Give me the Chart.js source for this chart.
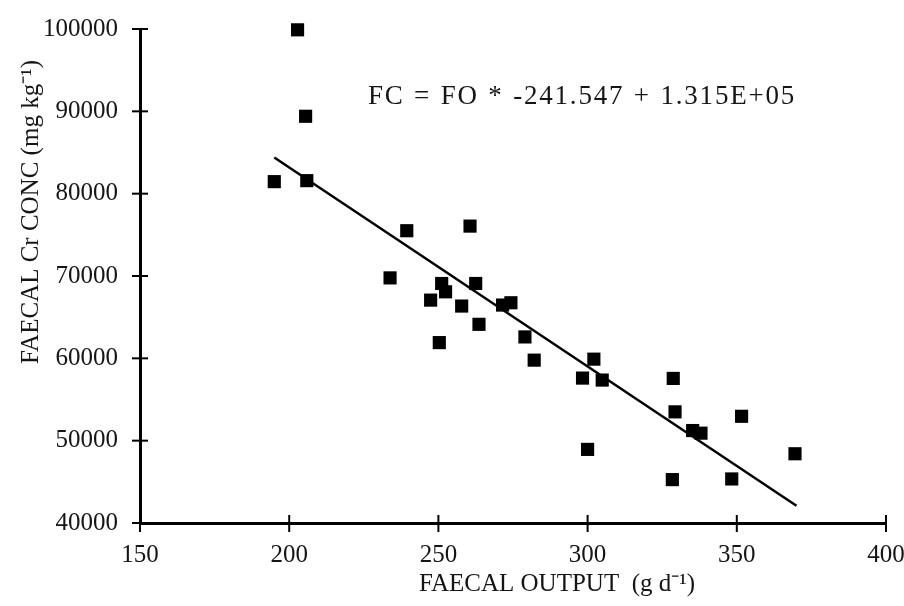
<!DOCTYPE html>
<html>
<head>
<meta charset="utf-8">
<script src="https://cdn.jsdelivr.net/npm/chart.js@4"></script>
<style>
  body { margin: 0; background: #fff; }
  #wrap { width: 904px; height: 606px; position: relative; }
</style>
</head>
<body>
<div id="wrap"><canvas id="chart"></canvas></div>
<script>
// faecal output (g/d) and faecal Cr concentration (mg/kg)
const faecalOutput = [202.8, 205.5, 195, 205.9, 239.4, 233.8, 260.6, 251.1, 252.4, 247.4,
  262.5, 257.8, 263.6, 250.3, 271.5, 274.3, 279, 282.1, 302.1, 298.3,
  304.9, 300, 328.7, 329.3, 335.2, 338, 328.4, 348.3, 351.6, 369.5];
const faecalCrConc = [99900, 89400, 81460, 81580, 75500, 69770, 76060, 69090, 68080, 67070,
  69090, 66350, 64130, 61910, 66470, 66750, 62600, 59780, 59900, 57600,
  57360, 48940, 57560, 53500, 51230, 50910, 45270, 45350, 52960, 48410];

// regression line end points
const fitX = [195, 370];
const fitY = [84400, 42100];

const xTicks = [150, 200, 250, 300, 350, 400];
const yTicks = [40000, 50000, 60000, 70000, 80000, 90000, 100000];

const equation = "FC = FO * -241.547 + 1.315E+05";
const xTitle = "FAECAL OUTPUT  (g d\u207B\u00B9)";
const yTitle = "FAECAL Cr CONC (mg kg\u207B\u00B9)";

const SERIF = "'Liberation Serif', 'Times New Roman', serif";
const INK = "#151515";

// tick marks crossing the axes + free text
const decor = {
  id: "decor",
  afterDraw(chart) {
    const c = chart.ctx;
    const xs = chart.scales.x, ys = chart.scales.y;
    const a = chart.chartArea;
    c.save();
    c.strokeStyle = "#000";
    c.lineWidth = 2;
    xTicks.forEach(v => {
      const px = xs.getPixelForValue(v);
      c.beginPath(); c.moveTo(px, a.bottom - 8); c.lineTo(px, a.bottom + 9); c.stroke();
    });
    yTicks.forEach(v => {
      const py = ys.getPixelForValue(v);
      c.beginPath(); c.moveTo(a.left - 8, py); c.lineTo(a.left + 8, py); c.stroke();
    });

    c.fillStyle = INK;
    c.textAlign = "center";
    c.textBaseline = "middle";
    c.font = "27px " + SERIF;
    c.letterSpacing = "1.8px";
    c.wordSpacing = "1px";
    c.fillText(equation, 582, 97);
    c.letterSpacing = "0px";
    c.wordSpacing = "0px";
    c.font = "25px " + SERIF;
    c.fillText(xTitle, 557, 584);
    c.translate(31, 212);
    c.rotate(-Math.PI / 2);
    c.fillText(yTitle, 0, 0);
    c.restore();
  }
};

new Chart(document.getElementById("chart"), {
  type: "scatter",
  data: {
    datasets: [
      {
        label: "data",
        data: faecalOutput.map((x, i) => ({ x: x, y: faecalCrConc[i] })),
        pointStyle: "rect",
        pointRadius: 9.3,
        pointBorderWidth: 0,
        backgroundColor: "#000",
        borderColor: "#000",
        clip: false
      },
      {
        label: "fit",
        type: "line",
        data: fitX.map((x, i) => ({ x: x, y: fitY[i] })),
        borderColor: "#000",
        borderWidth: 2.5,
        pointRadius: 0,
        fill: false
      }
    ]
  },
  options: {
    responsive: true,
    maintainAspectRatio: false,
    animation: false,
    layout: { padding: { top: 19, right: 18, left: 0, bottom: 0 } },
    plugins: { legend: { display: false }, tooltip: { enabled: false } },
    scales: {
      x: {
        type: "linear",
        min: 150, max: 400,
        afterBuildTicks: s => { s.ticks = xTicks.map(v => ({ value: v })); },
        afterFit: s => { s.height = 83; s.paddingRight = 0; },
        grid: { display: false },
        border: { display: true, color: "#000", width: 3 },
        ticks: { color: INK, padding: 9, font: { family: SERIF, size: 25 } }
      },
      y: {
        type: "linear",
        min: 40000, max: 100000,
        afterBuildTicks: s => { s.ticks = yTicks.map(v => ({ value: v })); },
        afterFit: s => { s.width = 140; },
        grid: { display: false },
        border: { display: true, color: "#000", width: 3 },
        ticks: { color: INK, padding: 14, font: { family: SERIF, size: 25 }, callback: v => String(v) }
      }
    }
  },
  plugins: [decor]
});
</script>
</body>
</html>
